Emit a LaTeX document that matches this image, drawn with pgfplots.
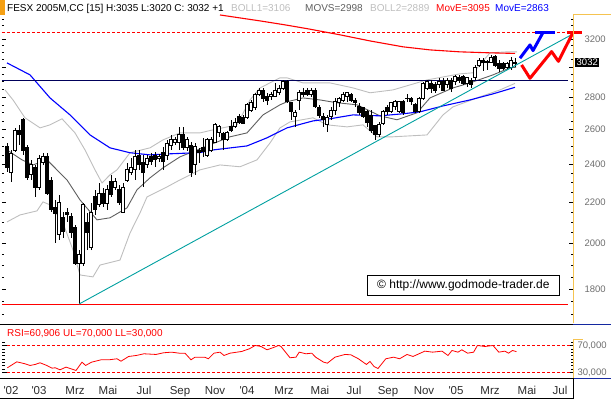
\documentclass[border=0pt]{standalone}
\usepackage{pgfplots}
\pgfplotsset{compat=1.18}
\usepackage{pgfplotstable}
\usepackage{fontspec}
\setmainfont{Liberation Sans}

\definecolor{bbgray}{RGB}{190,190,190}
\definecolor{mgray}{RGB}{95,95,95}
\definecolor{teal2}{RGB}{0,160,160}
\definecolor{orng}{RGB}{245,160,20}
\definecolor{orngline}{RGB}{245,195,80}
\definecolor{navyline}{RGB}{0,0,90}
\definecolor{lblgray}{RGB}{110,110,110}
\definecolor{xlbl}{RGB}{45,45,45}
\definecolor{edgeblue}{RGB}{20,40,160}

\pgfplotstableread{
i O H L C
0 2497 2519 2357 2379
1 2357 2479 2304 2462
2 2479 2608 2468 2596
3 2596 2626 2508 2567
4 2657 2669 2451 2479
5 2491 2508 2314 2325
6 2341 2423 2314 2396
7 2379 2396 2226 2277
8 2277 2451 2262 2434
9 2407 2463 2396 2440
10 2440 2462 2236 2246
11 2314 2330 2150 2160
12 2170 2210 2002 2145
13 2040 2236 2016 2200
14 2121 2150 2025 2054
15 2150 2170 2101 2136
16 2126 2145 2025 2049
17 2077 2087 1904 1912
18 1912 1970 1740 1948
19 1912 2195 1899 2185
20 2101 2145 1970 2049
21 1984 2195 1970 2150
22 2226 2262 2135 2160
23 2185 2298 2175 2246
24 2246 2272 2175 2195
25 2195 2288 2160 2262
26 2304 2341 2226 2236
27 2277 2325 2262 2304
28 2262 2288 2185 2200
29 2150 2298 2145 2277
30 2314 2407 2304 2368
31 2357 2434 2341 2379
32 2368 2479 2314 2440
33 2451 2479 2368 2396
34 2407 2451 2277 2352
35 2396 2451 2379 2434
36 2440 2463 2396 2412
37 2451 2468 2385 2423
38 2429 2457 2412 2440
39 2463 2497 2368 2412
40 2451 2537 2423 2519
41 2508 2567 2479 2537
42 2525 2555 2508 2537
43 2525 2614 2479 2567
44 2567 2614 2479 2491
45 2491 2555 2474 2537
46 2508 2525 2330 2357
47 2396 2519 2341 2497
48 2479 2491 2407 2463
49 2491 2549 2440 2468
50 2451 2549 2440 2537
51 2479 2555 2468 2537
52 2525 2638 2519 2626
53 2584 2626 2555 2614
54 2578 2584 2479 2537
55 2537 2590 2531 2584
56 2614 2657 2584 2596
57 2614 2669 2608 2644
58 2675 2694 2632 2644
59 2669 2687 2632 2638
60 2669 2763 2663 2750
61 2718 2781 2706 2763
62 2731 2827 2718 2814
63 2814 2859 2807 2846
64 2846 2859 2769 2794
65 2801 2827 2750 2781
66 2801 2833 2781 2814
67 2807 2892 2801 2846
68 2833 2879 2814 2859
69 2859 2912 2846 2899
70 2899 2912 2763 2769
71 2763 2769 2657 2706
72 2675 2718 2614 2700
73 2781 2846 2718 2833
74 2833 2859 2801 2814
75 2846 2859 2807 2814
76 2814 2859 2801 2846
77 2846 2859 2731 2738
78 2731 2750 2669 2687
79 2675 2700 2614 2657
80 2626 2687 2584 2669
81 2675 2738 2657 2718
82 2718 2794 2687 2769
83 2763 2801 2738 2794
84 2781 2833 2769 2814
85 2807 2833 2769 2827
86 2814 2827 2769 2781
87 2781 2794 2738 2763
88 2738 2763 2687 2700
89 2731 2738 2669 2675
90 2706 2718 2614 2644
91 2687 2718 2578 2596
92 2620 2626 2537 2567
93 2567 2644 2555 2632
94 2638 2718 2626 2706
95 2731 2750 2687 2706
96 2706 2769 2700 2763
97 2738 2781 2718 2769
98 2706 2775 2700 2769
99 2769 2781 2687 2700
100 2794 2820 2769 2788
101 2788 2801 2750 2769
102 2750 2763 2700 2706
103 2706 2801 2700 2788
104 2788 2899 2781 2892
105 2859 2912 2846 2899
106 2892 2912 2827 2859
107 2879 2899 2827 2846
108 2879 2926 2859 2899
109 2899 2926 2840 2846
110 2879 2926 2859 2912
111 2912 2926 2833 2859
112 2899 2946 2879 2933
113 2926 2946 2892 2912
114 2933 2946 2879 2892
115 2892 2933 2866 2926
116 2912 2926 2859 2879
117 2926 3014 2912 3000
118 3014 3063 3000 3049
119 3049 3063 2973 3035
120 3035 3049 2980 3042
121 3035 3084 3028 3070
122 3077 3084 3000 3014
123 3028 3049 2966 2993
124 3028 3035 2980 2993
125 3000 3035 2980 3028
126 3000 3070 2980 3049
127 3028 3060 3000 3032
}\candles

\begin{document}
\begin{tikzpicture}[x=1pt,y=1pt]
\useasboundingbox (0pt,0pt) rectangle (611pt,399pt);

% ---------------- main price panel ----------------
\begin{axis}[
  at={(2pt,74.5pt)}, anchor=south west, scale only axis,
  width=571pt, height=309.5pt,
  xmin=-1.3, xmax=141.45,
  ymode=log, ymin=1660, ymax=3381,
  clip=false,
  axis line style={draw=none},
  xtick=\empty,
  ytick={1800,2000,2200,2400,2600,2800,3000,3200},
  yticklabels={1800,2000,2200,2400,2600,2800,,3200},
  minor ytick={1700,1750,1850,1900,1950,2050,2100,2150,2250,2300,2350,2450,2500,2550,2650,2700,2750,2850,2900,2950,3050,3100,3150,3250,3300,3350},
  ytick pos=both, yticklabel pos=right,
  tick align=inside,
  major tick length=4.5pt, minor tick length=2.5pt,
  every tick/.style={black, line width=0.6pt},
  yticklabel style={font=\fontsize{9.5}{10}\selectfont, text=lblgray, xshift=8pt},
]
% Bollinger bands
\addplot[bbgray, line width=0.9pt] coordinates {
(-0.55,2846) (1.45,2781) (4.45,2669) (8.2,2608) (10.7,2626) (13.7,2663) (16.95,2578)
(19.45,2479) (21.95,2368) (23.7,2298) (25.7,2341) (27.45,2368) (30.7,2463) (35.7,2491)
(38.95,2537) (43.2,2578) (48.2,2578) (51.45,2596) (57.45,2626) (60.7,2781) (63.2,2859)
(68.2,2926) (69.95,2926) (73.95,2892) (80.7,2892) (86.45,2859) (90.7,2827) (96.45,2846)
(104.95,2912) (113.2,2953) (116.45,2960) (120.7,3099) (124.95,3106) (127.45,3106)};
\addplot[bbgray, line width=0.9pt] coordinates {
(-0.05,2101) (3.2,2135) (7.45,2155) (8.95,2200) (10.7,2185) (13.95,2096) (16.45,1970)
(18.2,1860) (21.45,1852) (23.2,1903) (28.2,1925) (30.7,2048) (33.2,2145) (34.95,2225)
(39.95,2277) (43.2,2314) (48.2,2368) (53.2,2395) (58.2,2385) (62.45,2423) (65.7,2519)
(68.2,2608) (70.7,2644) (76.45,2669) (79.95,2626) (84.95,2614) (88.95,2626) (92.45,2555)
(96.45,2555) (104.95,2566) (108.95,2687) (111.45,2737) (118.2,2801) (123.2,2846) (126.95,2889)};
% MOVS
\addplot[mgray, line width=0.9pt] coordinates {
(-0.05,2479) (3.7,2423) (6.45,2395) (9.95,2423) (14.95,2314) (18.2,2210) (22.45,2111)
(25.7,2121) (29.95,2170) (32.45,2262) (35.7,2325) (38.95,2379) (43.2,2440) (48.2,2485)
(55.7,2555) (59.95,2578) (63.95,2687) (68.2,2750) (69.95,2769) (73.95,2794) (78.2,2781)
(82.45,2763) (87.45,2750) (93.2,2681) (97.45,2657) (102.45,2700) (105.7,2794) (111.45,2859)
(115.7,2892) (121.45,2946) (125.7,2994) (127.2,2998)};
% MovE blue
\addplot[blue, line width=1.1pt] coordinates {
(-0.05,3028) (5.7,2946) (10.7,2794) (15.7,2687) (20.7,2566) (25.7,2491) (30.7,2463)
(35.7,2451) (40.7,2457) (48.2,2464) (51.45,2479) (59.95,2502) (64.95,2549) (69.95,2608)
(76.45,2650) (80.7,2663) (86.45,2687) (93.2,2681) (98.95,2694) (103.2,2706) (108.95,2743)
(115.7,2781) (121.45,2820) (126.95,2863)};
% MovE red
\addplot[red, line width=1.1pt] coordinates {
(53.2,3381) (58.2,3358) (63.2,3335) (69.45,3305) (75.2,3275) (83.2,3230) (90.7,3185)
(98.95,3142) (105.7,3120) (113.2,3106) (120.7,3099) (126.95,3095)};
% horizontal levels
\addplot[navyline, line width=1pt] coordinates {(-1.3,2905) (140.2,2905)};
\addplot[red, line width=1pt] coordinates {(-1.3,1736) (140.2,1736)};
\addplot[red, line width=0.8pt, dash pattern=on 3pt off 2pt] coordinates {(-1.3,3250) (141.45,3250)};

% candles (wick + body per week, read from the table)
\pgfplotsforeachungrouped \r in {0,...,127}{%
  \pgfplotstablegetelem{\r}{i}\of{\candles}\let\ci\pgfplotsretval
  \pgfplotstablegetelem{\r}{O}\of{\candles}\let\co\pgfplotsretval
  \pgfplotstablegetelem{\r}{H}\of{\candles}\let\ch\pgfplotsretval
  \pgfplotstablegetelem{\r}{L}\of{\candles}\let\cl\pgfplotsretval
  \pgfplotstablegetelem{\r}{C}\of{\candles}\let\cc\pgfplotsretval
  \pgfmathsetmacro\xa{\ci-0.34}%
  \pgfmathsetmacro\xb{\ci+0.34}%
  \ifdim\cc pt<\co pt \def\bc{black}\else\def\bc{white}\fi
  \edef\tmp{\noexpand\addplot[black, line width=1pt, forget plot] coordinates {(\ci,\cl) (\ci,\ch)};%
    \noexpand\addplot[draw=black, fill=\bc, line width=0.75pt, forget plot] coordinates {(\xa,\co) (\xb,\co) (\xb,\cc) (\xa,\cc)} -- cycle;}%
  \tmp
}

% trend line
\addplot[teal2, line width=0.9pt] coordinates {(18,1740) (141.45,3237)};
% projections
\addplot[blue, line width=3pt, line join=round] coordinates {
(128.2,3061) (130.7,3156) (131.45,3115) (134.0,3250)};
\addplot[blue, line width=3pt] coordinates {(131.95,3250) (136.95,3250)};
\addplot[red, line width=3pt, line join=round] coordinates {
(128.6,3014) (130.7,2923) (136.1,3108) (137.8,3039) (141.5,3250)};
\addplot[red, line width=3pt] coordinates {(139.9,3250) (143.6,3250)};
\end{axis}

% ---------------- RSI panel ----------------
\begin{axis}[
  at={(2pt,20.5pt)}, anchor=south west, scale only axis,
  width=571pt, height=52pt,
  xmin=-1.3, xmax=141.45,
  ymin=21.1, ymax=98.1,
  clip=false,
  axis line style={draw=none},
  xtick={0.95,7.95,16.95,25.2,34.2,43.2,51.95,59.95,69.2,78.2,86.7,95.2,104.2,112.2,120.7,129.95,138.2},
  xticklabels={\textquotesingle02,\textquotesingle03,Mrz,Mai,Jul,Sep,Nov,\textquotesingle04,Mrz,Mai,Jul,Sep,Nov,\textquotesingle05,Mrz,Mai,Jul},
  major x tick style={draw=none},
  xticklabel style={font=\fontsize{11.5}{13}\selectfont, text=xlbl, text height=8.3pt, text depth=0pt, yshift=-4.5pt},
  ytick={30,70},
  yticklabels={{30,000},{70,000}},
  minor ytick={35,40,45,50,55,60,65,75},
  ytick pos=both, yticklabel pos=right,
  tick align=inside,
  major tick length=4.5pt, minor tick length=2.5pt,
  every tick/.style={black, line width=0.6pt},
  yticklabel style={font=\fontsize{9.5}{10}\selectfont, text=lblgray, xshift=1pt},
]
\addplot[red, line width=0.8pt, dash pattern=on 3pt off 2pt] coordinates {(0,70) (141,70)};
\addplot[red, line width=0.8pt, dash pattern=on 3pt off 2pt] coordinates {(0,30) (141,30)};
\addplot[red, line width=0.8pt] coordinates {
(0.05,37.0) (2.4,45.8) (4.45,42.9) (5.7,40.4) (7.0,41.9) (8.2,44.4) (9.9,40.4)
(11.2,36.4) (12.0,37.0) (13.2,34.0) (14.7,37.9) (17.2,33.0) (18.7,45.3) (19.6,40.4) (21.1,45.3) (23.45,48.8)
(25.45,48.8) (27.45,50.3) (28.45,46.7) (30.35,53.7) (32.3,55.2) (34.2,57.7) (37.2,56.7)
(39.1,59.2) (41.1,60.1) (43.0,58.6) (44.45,58.6) (45.95,48.8) (46.95,52.7) (49.35,52.7)
(50.3,50.3) (51.7,58.6) (53.2,60.1) (54.2,55.2) (55.7,58.6) (58.6,61.1) (60.55,65.1)
(62.0,70.0) (63.45,68.5) (64.95,63.6) (66.4,66.6) (67.85,70.0) (68.45,68.5) (70.7,51.8)
(72.2,52.7) (73.0,60.1) (74.7,57.7) (76.15,58.6) (77.1,52.7) (79.1,45.3) (80.05,43.8)
(81.95,52.7) (84.45,56.7) (85.9,56.2) (87.8,50.3) (89.8,41.9) (90.7,46.3) (91.7,38.9)
(92.7,35.9) (94.65,50.3) (96.6,52.7) (98.1,50.3) (99.95,56.7) (101.45,53.7) (104.4,61.6)
(106.35,60.1) (108.7,61.6) (110.2,55.2) (111.2,62.6) (112.7,60.1) (113.65,63.6) (115.1,58.6)
(116.6,60.1) (117.55,70.0) (119.45,68.5) (121.45,70.0) (122.9,60.1) (124.4,61.6) (125.35,58.6)
(126.3,62.6) (127.3,60.9)};
\end{axis}

% ---------------- frame and decorations ----------------
\fill[orng] (0pt,384pt) rectangle (5pt,399pt);
\draw[black, line width=1.8pt] (0pt,74.5pt) -- (573pt,74.5pt);
\draw[edgeblue, line width=1.2pt] (573pt,74.5pt) -- (611pt,74.5pt);
\draw[black, line width=1pt] (0pt,20.5pt) -- (573pt,20.5pt);
\draw[edgeblue, line width=1.2pt] (573pt,20.5pt) -- (611pt,20.5pt);
\draw[black, line width=1pt] (0pt,0.5pt) -- (573pt,0.5pt) -- (573pt,20.5pt);
\draw[orngline, line width=1pt] (573pt,75.5pt) -- (573pt,384pt) -- (611pt,384pt);
\draw[orngline, line width=1pt] (573pt,21pt) -- (573pt,59pt) -- (583pt,59pt);

% header
\begin{scope}[every node/.style={anchor=base west, inner sep=0pt, font=\fontsize{10}{12}\selectfont}]
\node at (7pt,387.5pt) {FESX 2005M,CC [15] H:3035 L:3020 C: 3032 +1};
\node[text=bbgray] at (231pt,387.5pt) {BOLL1=3106};
\node[text=mgray] at (305pt,387.5pt) {MOVS=2998};
\node[text=bbgray] at (370pt,387.5pt) {BOLL2=2889};
\node[text=red] at (436pt,387.5pt) {MovE=3095};
\node[text=blue] at (495pt,387.5pt) {MovE=2863};
\node[text=red] at (7pt,62.8pt) {RSI=60,906 UL=70,000 LL=30,000};
\end{scope}

% last price box
\node[fill=black, text=white, inner xsep=1.5pt, inner ysep=1pt, anchor=west,
  font=\fontsize{9.5}{10}\selectfont] at (575pt,336.5pt) {3032};

% watermark
\node[draw=black, line width=0.8pt, fill=white, minimum width=192pt, minimum height=20pt,
  inner sep=0pt, font=\fontsize{12}{14}\selectfont] at (463.3pt,114pt) {© http://www.godmode-trader.de};
\end{tikzpicture}
\end{document}
